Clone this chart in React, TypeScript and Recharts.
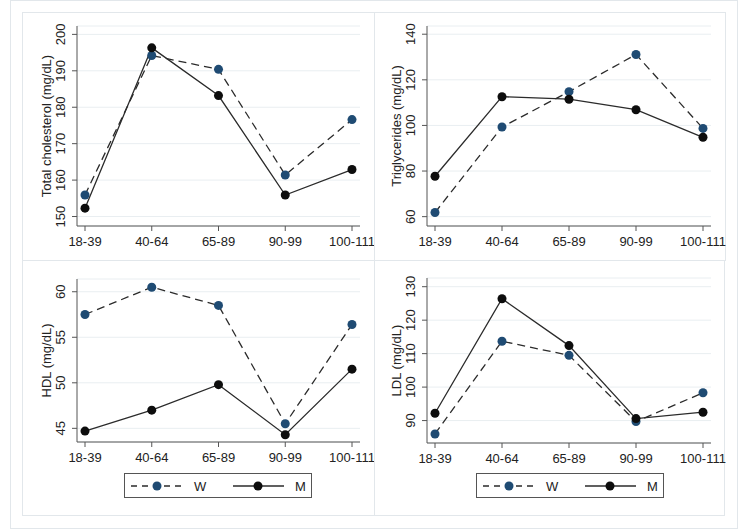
import React from "react";
import { LineChart, Line, XAxis, YAxis, CartesianGrid } from "recharts";

const ageGroups = ["18-39", "40-64", "65-89", "90-99", "100-111"];
const seriesNames = ["W", "M"];

// Total cholesterol (mg/dL)
const tcWomen = [155.9, 194.2, 190.4, 161.4, 176.6];
const tcMen = [152.3, 196.3, 183.2, 155.9, 162.9];
const tcTicks = [150, 160, 170, 180, 190, 200];

// Triglycerides (mg/dL)
const tgWomen = [61.8, 99.3, 114.8, 131.1, 98.7];
const tgMen = [77.7, 112.6, 111.5, 106.9, 94.8];
const tgTicks = [60, 80, 100, 120, 140];

// HDL (mg/dL)
const hdlWomen = [57.5, 60.5, 58.5, 45.5, 56.4];
const hdlMen = [44.7, 47.0, 49.8, 44.3, 51.5];
const hdlTicks = [45, 50, 55, 60];

// LDL (mg/dL)
const ldlWomen = [86.0, 113.7, 109.5, 89.7, 98.3];
const ldlMen = [92.2, 126.4, 112.4, 90.6, 92.5];
const ldlTicks = [90, 100, 110, 120, 130];

const NAVY = "#1f4b73";
const LINE = "#2b2b2b";
const BLACK = "#0d0d0d";
const AXIS = "#555555";
const GRID = "#e9eef1";
const FRAME = "#e2e7eb";
const TEXT = "#222222";
const FONT = '"Liberation Sans", Arial, Helvetica, sans-serif';

function buildRows(women: number[], men: number[]) {
  return ageGroups.map((age, i) => ({ age, w: women[i], m: men[i] }));
}

function RotatedTick(props: any) {
  const { x, y, payload } = props;
  const bx = x - 5;
  return (
    <text
      x={bx}
      y={y}
      transform={`rotate(-90 ${bx} ${y})`}
      textAnchor="middle"
      fontSize={13}
      fill={TEXT}
      fontFamily={FONT}
    >
      {payload.value}
    </text>
  );
}

type Box = { left: number; top: number; width: number; height: number };
type Plot = { l: number; r: number; t: number; b: number };

function Panel(props: {
  title: string;
  women: number[];
  men: number[];
  domain: [number, number];
  ticks: number[];
  box: Box;
  plot: Plot;
}) {
  const { title, women, men, domain, ticks, box, plot } = props;
  const yW = 50;
  const xH = 30;
  const margin = {
    top: plot.t - box.top,
    left: plot.l - box.left - yW,
    right: box.left + box.width - plot.r,
    bottom: box.top + box.height - plot.b - xH,
  };
  const labelX = plot.l - box.left - 26;
  const labelY = (plot.t + plot.b) / 2 - box.top;

  return (
    <div style={{ position: "absolute", left: box.left, top: box.top }}>
      <LineChart width={box.width} height={box.height} data={buildRows(women, men)} margin={margin}>
        <CartesianGrid vertical={false} stroke={GRID} strokeWidth={1} />
        <XAxis
          dataKey="age"
          height={xH}
          interval={0}
          padding={{ left: 8, right: 8 }}
          tickSize={5}
          tickMargin={6}
          axisLine={{ stroke: AXIS }}
          tickLine={{ stroke: AXIS }}
          tick={{ fontSize: 13, fill: TEXT, fontFamily: FONT }}
        />
        <YAxis
          type="number"
          width={yW}
          domain={domain}
          ticks={ticks}
          interval={0}
          allowDataOverflow
          tickSize={5}
          tickMargin={2}
          axisLine={{ stroke: AXIS }}
          tickLine={{ stroke: AXIS }}
          tick={<RotatedTick />}
          label={{
            value: title,
            content: () => (
              <text
                x={labelX}
                y={labelY}
                transform={`rotate(-90 ${labelX} ${labelY})`}
                textAnchor="middle"
                fontSize={13}
                fill={TEXT}
                fontFamily={FONT}
              >
                {title}
              </text>
            ),
          }}
        />
        <Line
          type="linear"
          dataKey="w"
          name={seriesNames[0]}
          stroke={LINE}
          strokeWidth={1.3}
          strokeDasharray="8 5"
          dot={{ r: 4.5, fill: NAVY, stroke: NAVY, strokeWidth: 0, strokeDasharray: "none" }}
          activeDot={false}
          isAnimationActive={false}
        />
        <Line
          type="linear"
          dataKey="m"
          name={seriesNames[1]}
          stroke={LINE}
          strokeWidth={1.3}
          dot={{ r: 4.5, fill: BLACK, stroke: BLACK, strokeWidth: 0 }}
          activeDot={false}
          isAnimationActive={false}
        />
      </LineChart>
    </div>
  );
}

function LegendBox({ left, top }: { left: number; top: number }) {
  return (
    <div
      style={{
        position: "absolute",
        left,
        top,
        width: 188,
        height: 25,
        border: `1px solid ${AXIS}`,
        boxSizing: "border-box",
        background: "#fff",
      }}
    >
      <svg width={186} height={23} style={{ display: "block" }}>
        <line x1={6} x2={57} y1={12} y2={12} stroke={LINE} strokeWidth={1.3} strokeDasharray="6 5" />
        <circle cx={32} cy={12} r={4.5} fill={NAVY} />
        <text x={69} y={16.5} fontSize={13} fill={TEXT} fontFamily={FONT}>
          {seriesNames[0]}
        </text>
        <line x1={108} x2={159} y1={12} y2={12} stroke={LINE} strokeWidth={1.3} />
        <circle cx={133} cy={12} r={4.5} fill={BLACK} />
        <text x={170} y={16.5} fontSize={13} fill={TEXT} fontFamily={FONT}>
          {seriesNames[1]}
        </text>
      </svg>
    </div>
  );
}

function Frame({ left, top, width, height }: Box) {
  return (
    <div
      style={{
        position: "absolute",
        left,
        top,
        width,
        height,
        border: `1px solid ${FRAME}`,
        boxSizing: "border-box",
      }}
    />
  );
}

export default function App() {
  return (
    <div
      style={{
        position: "absolute",
        left: 0,
        top: 0,
        width: 748,
        height: 529,
        background: "#fff",
        overflow: "hidden",
        fontFamily: FONT,
      }}
    >
      <Frame left={10} top={0} width={728} height={529} />
      <Frame left={22} top={12} width={353} height={249} />
      <Frame left={374} top={12} width={352} height={249} />
      <Frame left={22} top={260} width={353} height={256} />
      <Frame left={374} top={260} width={351} height={256} />

      <Panel
        title="Total cholesterol (mg/dL)"
        women={tcWomen}
        men={tcMen}
        domain={[147.4, 202.3]}
        ticks={tcTicks}
        box={{ left: 0, top: 0, width: 374, height: 262 }}
        plot={{ l: 77, r: 360, t: 26, b: 226 }}
      />
      <Panel
        title="Triglycerides (mg/dL)"
        women={tgWomen}
        men={tgMen}
        domain={[55.9, 143.6]}
        ticks={tgTicks}
        box={{ left: 374, top: 0, width: 362, height: 262 }}
        plot={{ l: 427, r: 711, t: 26, b: 226 }}
      />
      <Panel
        title="HDL (mg/dL)"
        women={hdlWomen}
        men={hdlMen}
        domain={[43.5, 61.4]}
        ticks={hdlTicks}
        box={{ left: 0, top: 262, width: 374, height: 215 }}
        plot={{ l: 77, r: 360, t: 279, b: 442 }}
      />
      <Panel
        title="LDL (mg/dL)"
        women={ldlWomen}
        men={ldlMen}
        domain={[83.3, 132.6]}
        ticks={ldlTicks}
        box={{ left: 374, top: 262, width: 362, height: 215 }}
        plot={{ l: 427, r: 711, t: 278, b: 443 }}
      />

      <LegendBox left={124} top={473} />
      <LegendBox left={476} top={473} />
    </div>
  );
}
